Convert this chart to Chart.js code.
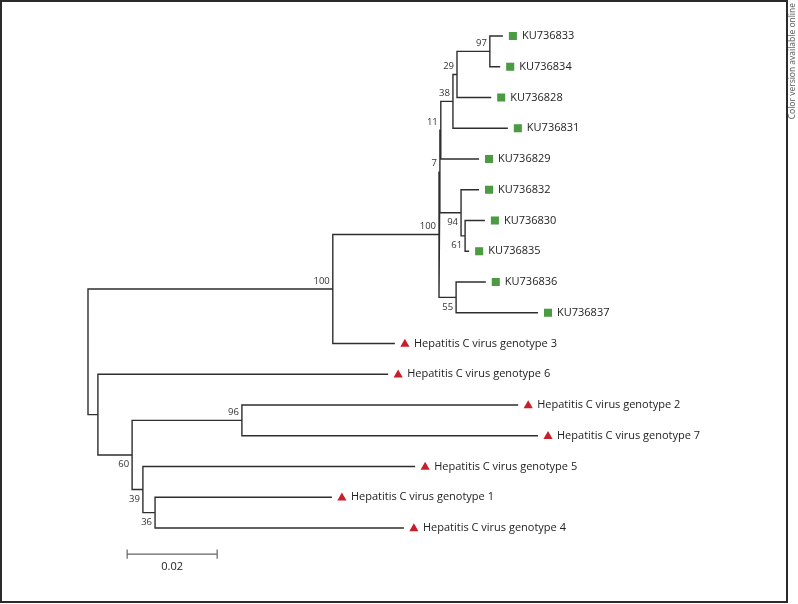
<!DOCTYPE html>
<html>
<head>
<meta charset="utf-8">
<script src="https://cdn.jsdelivr.net/npm/chart.js@4/dist/chart.umd.min.js"></script>
<style>
  html, body { margin: 0; padding: 0; background: #fff; }
  #wrap { position: relative; width: 798px; height: 604px; }
  canvas { position: absolute; left: 0; top: 0; }
</style>
</head>
<body>
<div id="wrap"><canvas id="c" width="798" height="604"></canvas></div>
<script>
// ---- DATA ----
const taxa = [
  'KU736833', 'KU736834', 'KU736828', 'KU736831', 'KU736829',
  'KU736832', 'KU736830', 'KU736835', 'KU736836', 'KU736837',
  'Hepatitis C virus genotype 3', 'Hepatitis C virus genotype 6',
  'Hepatitis C virus genotype 2', 'Hepatitis C virus genotype 7',
  'Hepatitis C virus genotype 5', 'Hepatitis C virus genotype 1',
  'Hepatitis C virus genotype 4'
];
const taxonGroup = [
  'study', 'study', 'study', 'study', 'study',
  'study', 'study', 'study', 'study', 'study',
  'reference', 'reference', 'reference', 'reference',
  'reference', 'reference', 'reference'
];
// distance from root (substitutions per site)
const taxonDepth = [
  0.0922, 0.0916, 0.0896, 0.0933, 0.0869,
  0.0869, 0.0882, 0.0847, 0.0884, 0.1000,
  0.0682, 0.0667, 0.0956, 0.1000, 0.0727, 0.0542, 0.0702
];
const nodeNames = ['n97', 'n29', 'n38', 'n11', 'n7', 'n61', 'n94', 'n55',
                   'n100b', 'n100a', 'n96', 'n36', 'n39', 'n60', 'nX', 'root'];
const nodeDepth = [0.0893, 0.0820, 0.0811, 0.0784, 0.0782, 0.0838, 0.0829, 0.0818,
                   0.0780, 0.0544, 0.0342, 0.0149, 0.0122, 0.0098, 0.0022, 0.0];
const nodeChildren = [
  ['KU736833', 'KU736834'],
  ['n97', 'KU736828'],
  ['n29', 'KU736831'],
  ['n38', 'KU736829'],
  ['n11', 'n94'],
  ['KU736830', 'KU736835'],
  ['KU736832', 'n61'],
  ['KU736836', 'KU736837'],
  ['n7', 'n55'],
  ['n100b', 'Hepatitis C virus genotype 3'],
  ['Hepatitis C virus genotype 2', 'Hepatitis C virus genotype 7'],
  ['Hepatitis C virus genotype 1', 'Hepatitis C virus genotype 4'],
  ['Hepatitis C virus genotype 5', 'n36'],
  ['n96', 'n39'],
  ['Hepatitis C virus genotype 6', 'n60'],
  ['n100a', 'nX']
];
const bootstrap = [97, 29, 38, 11, 7, 61, 94, 55, 100, 100, 96, 36, 39, 60, null, null];
const scaleBarLength = 0.02;
const scaleBarLabel = '0.02';

// ---- LAYOUT / STYLE ----
const labelBelow = { n61: true, n94: true, n55: true, n36: true, n39: true, n60: true };
const scaleBarPos = { x: 0.0087, y: 16.85 };
const lineColor = '#2e2e2e';
const green = '#4b9b43';
const red = '#c71f2b';

// ---- build tree geometry ----
const pos = {};
taxa.forEach((t, i) => { pos[t] = { x: taxonDepth[i], y: i }; });
function nodePos(name) {
  if (pos[name]) return pos[name];
  const k = nodeNames.indexOf(name);
  const kids = nodeChildren[k].map(nodePos);
  pos[name] = { x: nodeDepth[k], y: (kids[0].y + kids[kids.length - 1].y) / 2 };
  return pos[name];
}
nodePos('root');

const branchPts = [];
nodeNames.forEach((n, k) => {
  const D = nodeDepth[k];
  const a = pos[nodeChildren[k][0]], b = pos[nodeChildren[k][1]];
  branchPts.push({ x: a.x, y: a.y }, { x: D, y: a.y }, { x: D, y: b.y }, { x: b.x, y: b.y });
  branchPts.push({ x: b.x, y: null });
});

const sbPts = [
  { x: scaleBarPos.x, y: scaleBarPos.y - 0.15 }, { x: scaleBarPos.x, y: scaleBarPos.y },
  { x: scaleBarPos.x + scaleBarLength, y: scaleBarPos.y },
  { x: scaleBarPos.x + scaleBarLength, y: scaleBarPos.y - 0.15 }, { x: scaleBarPos.x + scaleBarLength, y: scaleBarPos.y + 0.15 },
  { x: scaleBarPos.x + scaleBarLength, y: null },
  { x: scaleBarPos.x, y: scaleBarPos.y + 0.15 }, { x: scaleBarPos.x, y: scaleBarPos.y - 0.15 }
];

const treePlugin = {
  id: 'treeLabels',
  afterDatasetsDraw(chart) {
    const ctx = chart.ctx;
    const xs = chart.scales.x, ys = chart.scales.y;
    ctx.save();
    // frame
    ctx.strokeStyle = '#2b2b2b';
    ctx.lineWidth = 2;
    ctx.strokeRect(1, 1, 786, 601);
    // leaves
    taxa.forEach((t, i) => {
      const px = xs.getPixelForValue(taxonDepth[i]);
      const py = ys.getPixelForValue(i);
      const style = taxonGroup[i] === 'study'
        ? { pointStyle: 'rect', radius: 5.7, rotation: 0, borderWidth: 0 }
        : { pointStyle: 'triangle', radius: 5.3, rotation: 0, borderWidth: 0 };
      ctx.fillStyle = taxonGroup[i] === 'study' ? green : red;
      ctx.strokeStyle = 'rgba(0,0,0,0)';
      Chart.helpers.drawPoint(ctx, style, px + 10, py + (taxonGroup[i] === 'study' ? 0 : 0.5));
      ctx.fillStyle = '#222';
      ctx.font = '11px "Open Sans"';
      ctx.textAlign = 'left';
      ctx.textBaseline = 'middle';
      ctx.fillText(t, px + 19, py);
    });
    // bootstrap values
    ctx.font = '9.5px "Open Sans"';
    ctx.fillStyle = '#333';
    ctx.textAlign = 'right';
    ctx.textBaseline = 'middle';
    nodeNames.forEach((n, k) => {
      if (bootstrap[k] == null) return;
      const px = xs.getPixelForValue(pos[n].x);
      const py = ys.getPixelForValue(pos[n].y);
      ctx.fillText(String(bootstrap[k]), px - 3, labelBelow[n] ? py + 9.5 : py - 8);
    });
    // scale bar label
    ctx.font = '11px "Open Sans"';
    ctx.fillStyle = '#222';
    ctx.textAlign = 'center';
    ctx.fillText(scaleBarLabel, xs.getPixelForValue(scaleBarPos.x + scaleBarLength / 2),
                 ys.getPixelForValue(scaleBarPos.y) + 13);
    // side note
    ctx.translate(793, 3);
    ctx.rotate(-Math.PI / 2);
    ctx.font = '8.5px "Open Sans"';
    ctx.fillStyle = '#555';
    ctx.textAlign = 'right';
    ctx.textBaseline = 'middle';
    ctx.fillText('Color version available online', 0, 0);
    ctx.restore();
  }
};

new Chart(document.getElementById('c'), {
  type: 'scatter',
  data: {
    datasets: [
      { data: branchPts, showLine: true, spanGaps: false, borderColor: lineColor,
        borderWidth: 1.4, pointRadius: 0, borderJoinStyle: 'miter' },
      { data: sbPts, showLine: true, spanGaps: false, borderColor: '#666',
        borderWidth: 1.2, pointRadius: 0 }
    ]
  },
  options: {
    responsive: false,
    animation: false,
    layout: { padding: 0 },
    plugins: { legend: { display: false }, tooltip: { enabled: false } },
    scales: {
      x: { type: 'linear', display: false, min: -88 / 4500, max: -88 / 4500 + 798 / 4500 },
      y: { type: 'linear', display: false, reverse: true, min: -36 / 30.75, max: -36 / 30.75 + 604 / 30.75 }
    }
  },
  plugins: [treePlugin]
});
</script>
</body>
</html>
